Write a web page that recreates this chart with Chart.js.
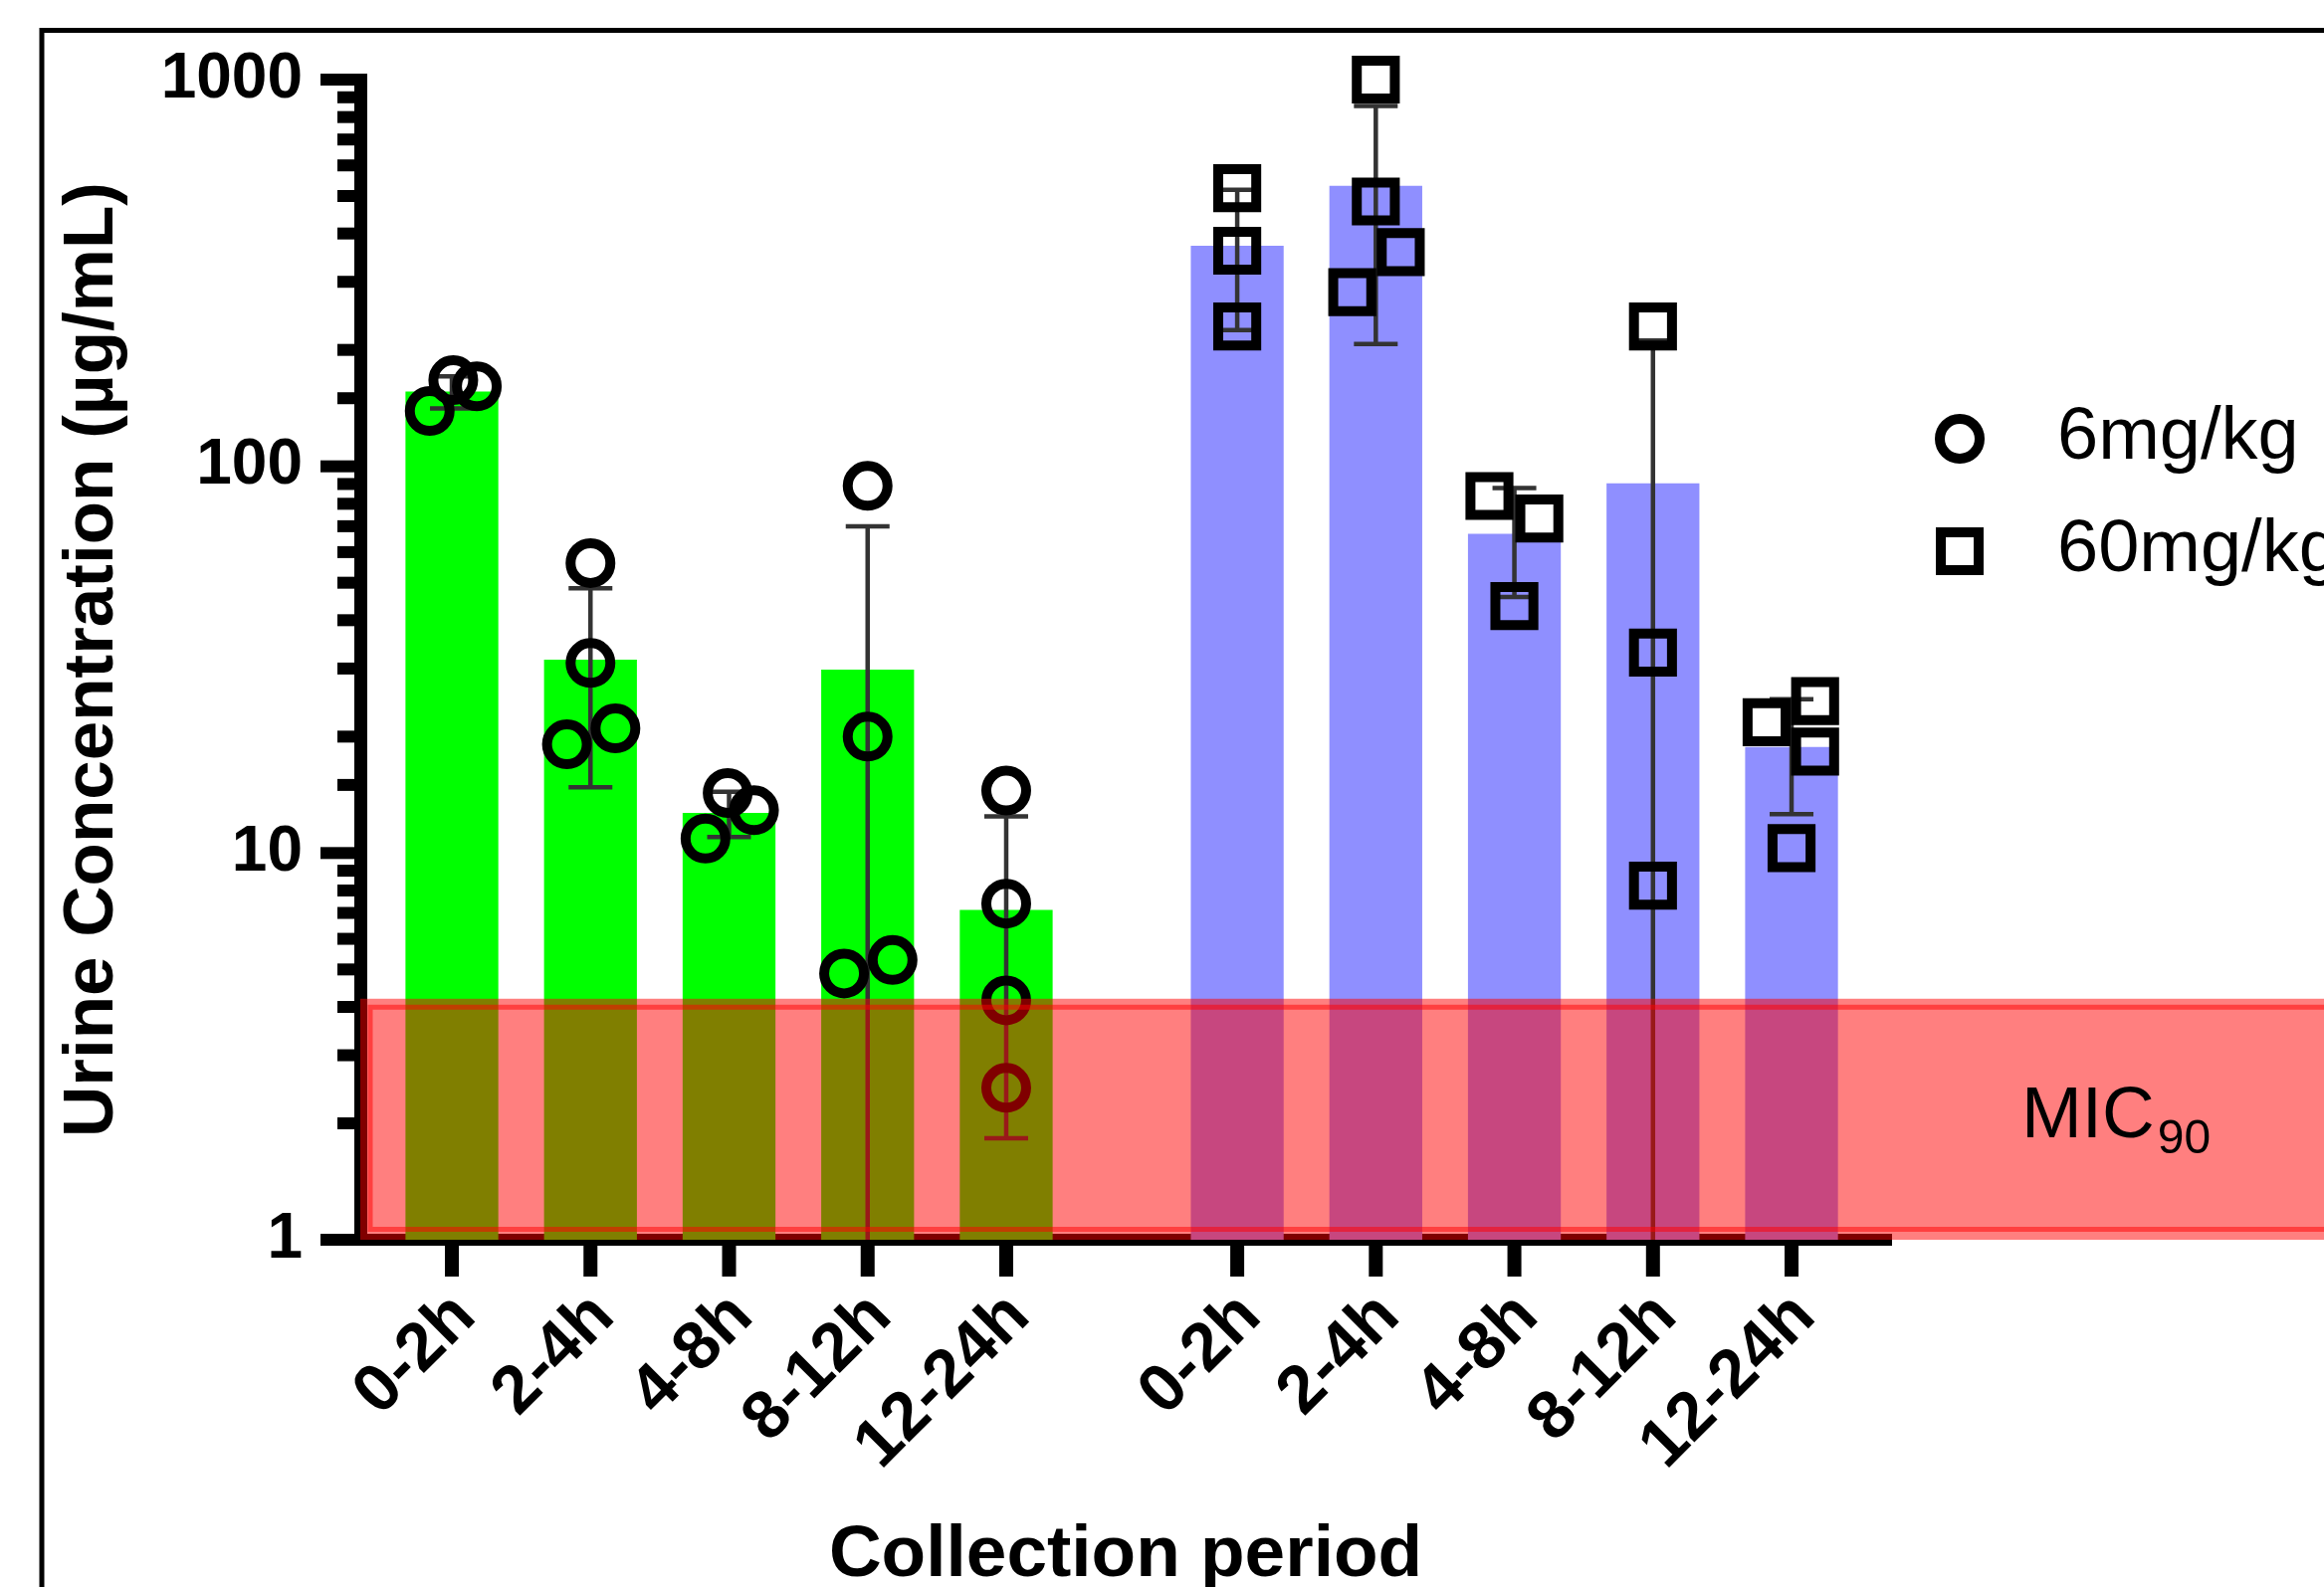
<!DOCTYPE html>
<html>
<head>
<meta charset="utf-8">
<script src="https://cdn.jsdelivr.net/npm/chart.js@4.4.1/dist/chart.umd.min.js"></script>
<style>
  html, body { margin: 0; padding: 0; background: #fff; }
  #wrap { position: relative; width: 2335px; height: 1595px; }
</style>
</head>
<body>
<div id="wrap"><canvas id="urineChart"></canvas></div>
<script>
// collection periods, same for both doses
const periods = ['0-2h', '2-4h', '4-8h', '8-12h', '12-24h'];
const doseLabels = ['6mg/kg', '60mg/kg'];

// bar height = mean urine concentration (µg/mL)
const mean6 = [156, 31.6, 12.7, 29.8, 7.13];
const mean60 = [372, 531, 66.9, 90.4, 18.8];

// SD shown by the error bars
const sd6 = [14.8, 16.8, 1.7, 40.1, 5.3];
const sd60 = [147, 324, 21, 121, 6.2];

// individual animals per period
const pts6 = [
  [139, 167, 161],
  [56.2, 31, 19.1, 21.0],
  [10.9, 14.3, 12.9],
  [89, 20, 4.88, 5.29],
  [14.5, 7.4, 4.16, 2.47]
];
const pts60 = [
  [524, 361, 230],
  [1000, 484, 358, 282],
  [83.8, 73.3, 43.5],
  [230, 33.0, 8.23],
  [21.8, 24.7, 18.3, 10.3]
];
// sideways spread of the dots (fraction of one period)
const jit6 = [[-0.16, 0.01, 0.18], [0, 0, -0.17, 0.18], [-0.17, -0.01, 0.18], [0, 0, -0.17, 0.18], [0, 0, 0, 0]];
const jit60 = [[0, 0, 0], [0, 0, 0.18, -0.17], [-0.18, 0.18, 0], [0, 0, 0], [-0.18, 0.17, 0.17, 0]];

// MIC90 band (µg/mL)
const micLow = 1;
const micHigh = 4.2;

const yLabelled = [1, 10, 100, 1000];

// x positions: second dose group sits after a gap
const groupGap = 1.667;
const pos6 = periods.map((p, i) => i + 1);
const pos60 = periods.map((p, i) => i + 1 + periods.length + groupGap - 1);
const allPos = pos6.concat(pos60);

function dots(pts, jit, pos) {
  let out = [];
  pts.forEach((arr, i) => {
    arr.forEach((v, k) => out.push({x: pos[i] + jit[i][k], y: v}));
  });
  return out;
}

function isDecade(v) {
  const l = Math.log10(v);
  return Math.abs(l - Math.round(l)) < 1e-9;
}

Chart.defaults.font.family = '"Liberation Sans", Arial, sans-serif';
Chart.defaults.color = '#000';

// error bars drawn right after each bar dataset, under the dots
const errorBars = {
  id: 'errorBars',
  afterDatasetDraw(chart, args) {
    const ds = chart.data.datasets[args.index];
    if (!ds.errors) return;
    const y = chart.scales.y;
    const ctx = chart.ctx;
    const area = chart.chartArea;
    ctx.save();
    ctx.strokeStyle = '#333';
    ctx.lineWidth = 4.5;
    args.meta.data.forEach((bar, i) => {
      const m = ds.data[i].y, s = ds.errors[i];
      const top = y.getPixelForValue(m + s);
      const lowOk = m - s > y.min;
      const bot = lowOk ? y.getPixelForValue(m - s) : area.bottom;
      ctx.beginPath();
      ctx.moveTo(bar.x, top); ctx.lineTo(bar.x, bot);
      ctx.moveTo(bar.x - 22, top); ctx.lineTo(bar.x + 22, top);
      if (lowOk) { ctx.moveTo(bar.x - 22, bot); ctx.lineTo(bar.x + 22, bot); }
      ctx.stroke();
    });
    ctx.restore();
  }
};

// tick marks, frame, MIC band, legend
const decorations = {
  id: 'decorations',
  afterDraw(chart) {
    const ctx = chart.ctx;
    const area = chart.chartArea;
    const x = chart.scales.x, y = chart.scales.y;
    ctx.save();
    ctx.fillStyle = '#000';
    y.ticks.forEach(t => {
      const py = y.getPixelForValue(t.value);
      const len = isDecade(t.value) ? 40 : 23;
      ctx.fillRect(area.left - len, py - 6, len, 12);
    });
    x.ticks.forEach(t => {
      const px = x.getPixelForValue(t.value);
      ctx.fillRect(px - 7, area.bottom, 14, 37);
    });

    // outer frame (right and bottom lie outside the picture)
    ctx.strokeStyle = '#000';
    ctx.lineWidth = 5;
    ctx.beginPath();
    ctx.moveTo(42, chart.height + 10);
    ctx.lineTo(42, 30.5);
    ctx.lineTo(chart.width + 10, 30.5);
    ctx.stroke();

    // MIC90 band across the whole width
    const bTop = y.getPixelForValue(micHigh);
    const bBot = y.getPixelForValue(micLow);
    ctx.fillStyle = 'rgba(255,0,0,0.5)';
    ctx.fillRect(area.left, bTop, chart.width - area.left, bBot - bTop);
    ctx.strokeStyle = 'rgba(255,0,0,0.5)';
    ctx.lineWidth = 5;
    ctx.strokeRect(area.left + 10, bTop + 8.5, chart.width, bBot - bTop - 19);

    ctx.fillStyle = '#000';
    ctx.textBaseline = 'alphabetic';
    ctx.textAlign = 'left';
    ctx.font = '73px "Liberation Sans", Arial, sans-serif';
    const mx = area.right + 131, my = bBot - 103;
    ctx.fillText('MIC', mx, my);
    const w = ctx.measureText('MIC').width;
    ctx.font = '48px "Liberation Sans", Arial, sans-serif';
    ctx.fillText('90', mx + w + 3, my + 16);

    // legend from the dot datasets
    const dotSets = chart.data.datasets.filter(d => d.type === 'scatter');
    dotSets.forEach((d, i) => {
      const cx = area.right + 69, cy = 441 + i * 113;
      ctx.strokeStyle = '#000';
      ctx.lineWidth = 10;
      ctx.beginPath();
      if (d.pointStyle === 'circle') ctx.arc(cx, cy, 20, 0, Math.PI * 2);
      else ctx.rect(cx - 19, cy - 19, 38, 38);
      ctx.stroke();
      ctx.fillStyle = '#000';
      ctx.font = '74px "Liberation Sans", Arial, sans-serif';
      ctx.textBaseline = 'middle';
      ctx.fillText(d.label, area.right + 167, cy);
    });
    ctx.restore();
  }
};

new Chart(document.getElementById('urineChart'), {
  type: 'bar',
  data: {
    datasets: [
      {
        type: 'bar', label: doseLabels[0],
        data: mean6.map((v, i) => ({x: pos6[i], y: v})),
        errors: sd6,
        backgroundColor: '#00FF00',
        grouped: false, categoryPercentage: 1, barPercentage: 0.67,
        order: 2
      },
      {
        type: 'bar', label: doseLabels[1],
        data: mean60.map((v, i) => ({x: pos60[i], y: v})),
        errors: sd60,
        backgroundColor: '#8F8FFF',
        grouped: false, categoryPercentage: 1, barPercentage: 0.67,
        order: 2
      },
      {
        type: 'scatter', label: doseLabels[0],
        data: dots(pts6, jit6, pos6),
        pointStyle: 'circle', pointRadius: 20, pointHoverRadius: 20,
        pointBorderWidth: 10, pointBorderColor: '#000', pointBackgroundColor: 'rgba(0,0,0,0)',
        showLine: false, clip: false, order: 1
      },
      {
        type: 'scatter', label: doseLabels[1],
        data: dots(pts60, jit60, pos60),
        pointStyle: 'rect', pointRadius: 27, pointHoverRadius: 27,
        pointBorderWidth: 10, pointBorderColor: '#000', pointBackgroundColor: 'rgba(0,0,0,0)',
        showLine: false, clip: false, order: 1
      }
    ]
  },
  options: {
    responsive: true,
    maintainAspectRatio: false,
    animation: false,
    events: [],
    layout: { autoPadding: false, padding: { top: 80, right: 435, bottom: 0, left: 0 } },
    plugins: { legend: { display: false }, tooltip: { enabled: false } },
    scales: {
      x: {
        type: 'linear',
        min: 0.339, max: 11.385,
        offset: false,
        grid: { display: false },
        border: { display: true, color: '#000', width: 12 },
        afterBuildTicks: (scale) => { scale.ticks = allPos.map(v => ({value: v})); },
        afterFit: (scale) => { scale.height = 349; },
        ticks: {
          autoSkip: false, minRotation: 45, maxRotation: 45, padding: 44, labelOffset: 13,
          font: { size: 68, weight: 'bold', lineHeight: 0.6 },
          callback: (v) => {
            const i = allPos.findIndex(p => Math.abs(p - v) < 1e-6);
            return i < 0 ? '' : periods[i % periods.length];
          }
        },
        title: {
          display: true, text: 'Collection period',
          font: { size: 73, weight: 'bold', lineHeight: 0.85 },
          padding: { top: 0, bottom: 0 }
        }
      },
      y: {
        type: 'logarithmic',
        min: 1, max: 1000,
        grid: { display: false },
        border: { display: true, color: '#000', width: 13 },
        afterFit: (scale) => { scale.width = 362; scale.paddingTop = 0; scale.paddingBottom = 0; },
        ticks: {
          autoSkip: false, padding: 50,
          font: { size: 64, weight: 'bold' },
          callback: (v) => yLabelled.includes(v) || isDecade(v) ? String(Math.round(v)) : ''
        },
        title: {
          display: true, text: 'Urine Concentration (µg/mL)',
          font: { size: 71, weight: 'bold', lineHeight: 1 },
          padding: { top: 58, bottom: 0 }
        }
      }
    }
  },
  plugins: [errorBars, decorations]
});
</script>
</body>
</html>
